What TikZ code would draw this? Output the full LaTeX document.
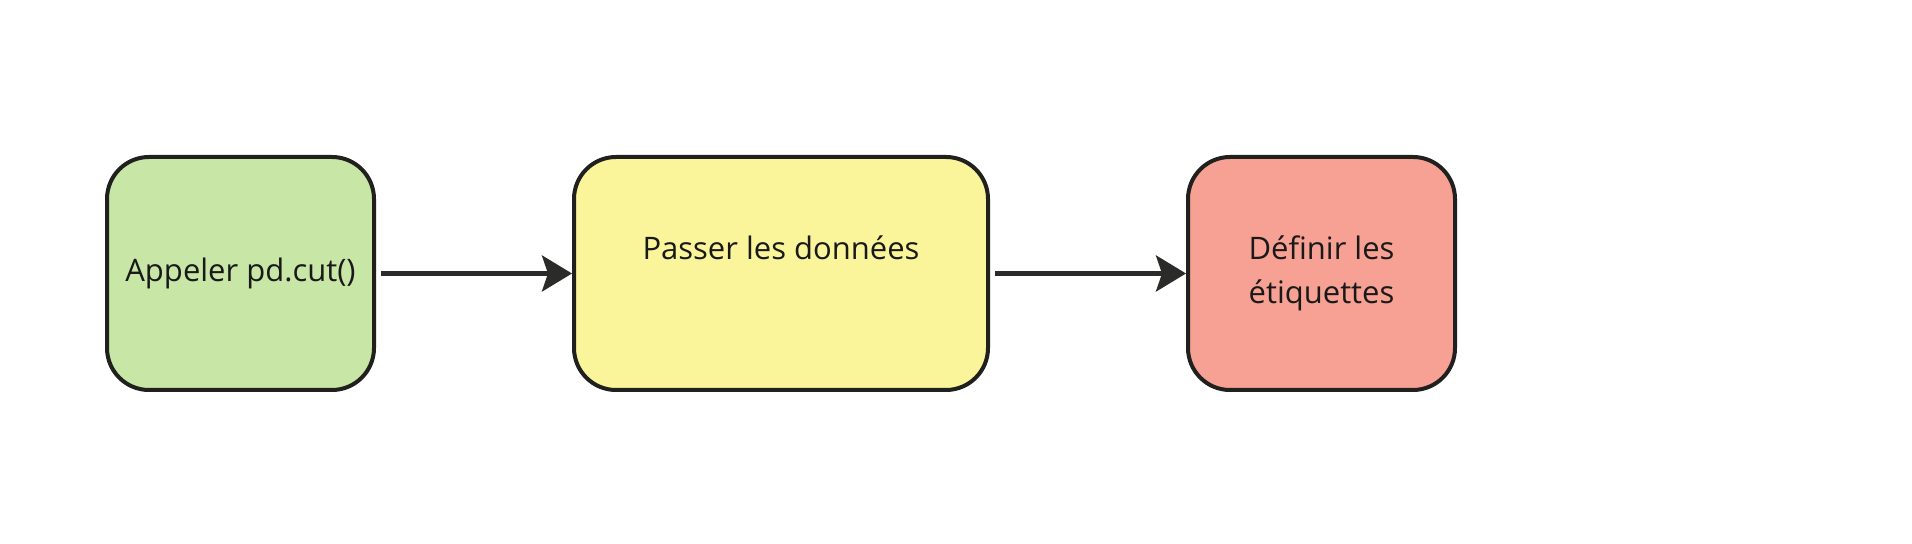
\documentclass[tikz,border=0pt]{standalone}
\usepackage{fontspec}
\setmainfont{Open Sans}
\usetikzlibrary{arrows.meta}
\definecolor{stepgreen}{RGB}{200,230,166}
\definecolor{stepyellow}{RGB}{250,245,155}
\definecolor{stepred}{RGB}{246,161,147}
\definecolor{edgegray}{RGB}{32,32,30}
\tikzstyle{block} = [draw=edgegray, line width=2pt, rectangle, rounded corners=21pt,
    minimum height=116.5pt, minimum width=133.5pt, text=black!90,
    font=\fontsize{15.5}{22}\selectfont, align=center]
\tikzstyle{flow} = [draw=edgegray!95!white, line width=2.2pt, -{Stealth[length=15pt,width=18pt,inset=3pt]}]

\begin{document}
\begin{tikzpicture}[x=0.5pt, y=-0.5pt, node distance=270.25pt]
    \useasboundingbox (0,0) rectangle (1912,544);
    \node [block, fill=stepgreen] (call) at (240.5,273.5) {Appeler pd.cut()};
    \node [block, fill=stepyellow, right of=call, minimum width=207pt,
        text depth=26pt] (pass) {Passer les données};
    \node [block, fill=stepred, right of=pass] (labels) {Définir les\\étiquettes};
    \draw [flow, shorten <=2.5pt] (call) -- (pass);
    \draw [flow, shorten <=2.5pt] (pass) -- (labels);
\end{tikzpicture}
\end{document}
